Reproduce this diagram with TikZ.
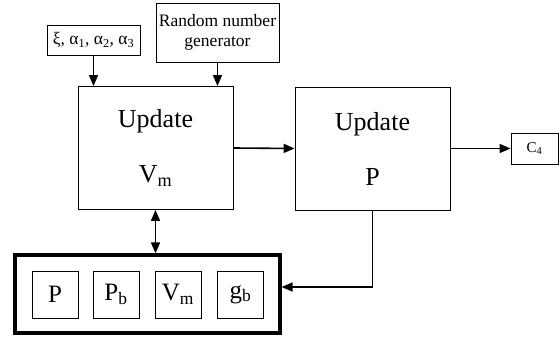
\documentclass[tikz,border=0pt]{standalone}
\usepackage{fontspec}
\setmainfont{Liberation Serif}
\usetikzlibrary{arrows.meta}

\begin{document}
\begin{tikzpicture}[x=1pt,y=-1pt,>={Triangle[length=11pt,width=9pt]},
box/.style={draw,rectangle,inner sep=0pt,line width=0.9pt},
small/.style={font=\fontsize{17.5}{20}\selectfont},
big/.style={font=\fontsize{26}{30}\selectfont,align=center},
var/.style={box,minimum width=46pt,minimum height=47pt,font=\fontsize{25}{30}\selectfont}]
\useasboundingbox (0,0) rectangle (560,337);
% inputs
\node[box,small,minimum width=93pt,minimum height=30pt] (param) at (93.5,40)
  {ξ, α\textsubscript{1}, α\textsubscript{2}, α\textsubscript{3}};
\node[box,small,align=center,minimum width=123pt,minimum height=59pt] (rng) at (217.5,32.5)
  {Random number\\generator};
% update steps
\node[box,big,minimum width=155pt,minimum height=123pt] (updv) at (155.5,148)
  {Update\\[25pt]V\textsubscript{m}};
\node[box,big,minimum width=155pt,minimum height=123pt] (updp) at (372.5,148.5)
  {Update\\[25pt]P};
\node[box,font=\fontsize{15}{18}\selectfont,minimum width=47pt,minimum height=31pt] (out) at (534.5,148.5)
  {C\textsubscript{4}};
% storage
\node[draw,line width=3.2pt,minimum width=265pt,minimum height=78pt] (store) at (147.5,294) {};
\node[var] (p) at (55,294.5) {P};
\node[var] (pb) at (116,294.5) {P\textsubscript{b}};
\node[var] (vm) at (178,294.5) {V\textsubscript{m}};
\node[var] (gb) at (240.5,294.5) {g\textsubscript{b}};
\path[->,line width=1.6pt]
(param.south) edge (param.south |- updv.north)
(rng.south) edge (rng.south |- updv.north)
(updv.east) edge (updp.west)
(updp.east) edge (out.west);
\draw[<->,line width=1.6pt] (updv.south) -- (updv.south |- store.north);
\draw[->,line width=1.6pt] (updp.south) |- ([yshift=7pt]store.east);
\end{tikzpicture}
\end{document}
